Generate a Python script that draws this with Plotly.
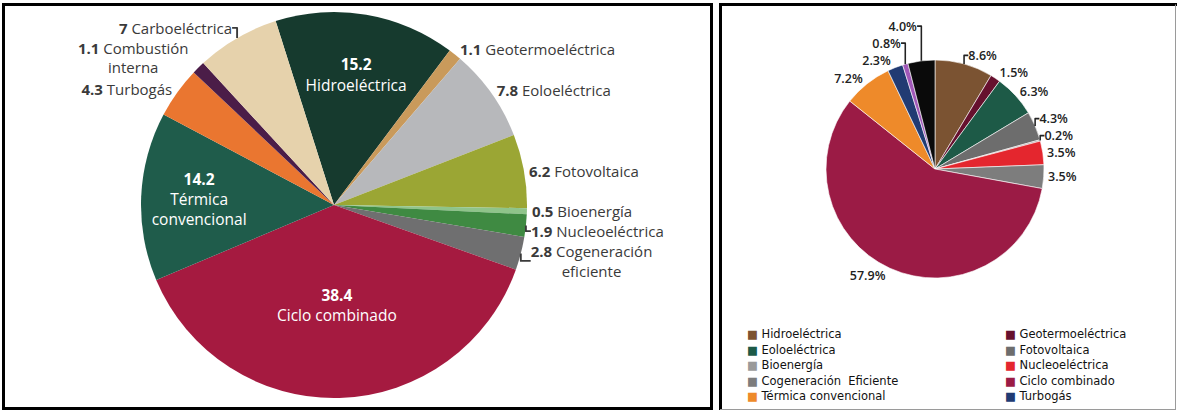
import plotly.graph_objects as go

# --- datos: panel izquierdo (capacidad, %) ---
tecnologias = ["Hidroeléctrica", "Geotermoeléctrica", "Eoloeléctrica", "Fotovoltaica",
               "Bioenergía", "Nucleoeléctrica", "Cogeneración eficiente", "Ciclo combinado",
               "Térmica convencional", "Turbogás", "Combustión interna", "Carboeléctrica"]
etiquetas_izq = ["Hidroeléctrica", "Geotermoeléctrica", "Eoloeléctrica", "Fotovoltaica",
                 "Bioenergía", "Nucleoeléctrica", "Cogeneración<br>eficiente", "Ciclo combinado",
                 "Térmica<br>convencional", "Turbogás", "Combustión<br>interna", "Carboeléctrica"]
valores_izq = [15.2, 1.1, 7.8, 6.2, 0.5, 1.9, 2.8, 38.4, 14.2, 4.3, 1.1, 7]
colores_izq = ["#163a2e", "#c99a5b", "#b7b8bb", "#9ba634", "#8fc48a", "#3f8a42",
               "#6f6f70", "#a51a40", "#1f5c4b", "#ea7630", "#4b1d48", "#e6d2ac"]
dentro = ["Hidroeléctrica", "Ciclo combinado", "Térmica convencional"]

# --- datos: panel derecho (generación, %) ---
nombres_der = ["Hidroeléctrica", "Geotermoeléctrica", "Eoloeléctrica", "Fotovoltaica",
               "Bioenergía", "Nucleoeléctrica", "Cogeneración  Eficiente", "Ciclo combinado",
               "Térmica convencional", "Turbogás", "Combustión interna", "Carboeléctrica"]
valores_der = [8.6, 1.5, 6.3, 4.3, 0.2, 3.5, 3.5, 57.9, 7.2, 2.3, 0.8, 4.0]
colores_der = ["#7b5332", "#66102e", "#1d5a47", "#6d6d6d", "#9a9a9a", "#e4262e",
               "#7d7d7d", "#9b1b45", "#ee8a2a", "#213b73", "#a058b8", "#0a0a0a"]
leyenda_der = 10  # solo se ven las primeras 10 entradas

W, H = 1177, 411
FUENTE = "Open Sans"

posiciones = ["inside" if t in dentro else "outside" for t in tecnologias]
plantillas = ["<b>%{value}</b><br>%{text}" if t in dentro else "<b>%{value}</b> %{text}"
              for t in tecnologias]

fig = go.Figure()

# pastel izquierdo
cx, cy, r = 334, 205, 193
fig.add_trace(go.Pie(
    labels=tecnologias, values=valores_izq, text=etiquetas_izq,
    marker=dict(colors=colores_izq),
    sort=False, direction="clockwise", rotation=-17.6,
    textposition=posiciones, texttemplate=plantillas,
    insidetextorientation="horizontal",
    insidetextfont=dict(family=FUENTE, size=15.5, color="white"),
    outsidetextfont=dict(family=FUENTE, size=15, color="#3a3a3a"),
    domain=dict(x=[(cx - r) / W, (cx + r) / W], y=[1 - (cy + r) / H, 1 - (cy - r) / H]),
    showlegend=False, hoverinfo="label+value",
))

# pastel derecho
cx2, cy2, r2 = 935, 169, 109
fig.add_trace(go.Pie(
    labels=nombres_der, values=valores_der,
    marker=dict(colors=colores_der, line=dict(color="white", width=0.6)),
    sort=False, direction="clockwise", rotation=0,
    textposition="outside", texttemplate="%{value:.1f}%",
    outsidetextfont=dict(family=FUENTE, size=12.5, color="#222222", weight=600),
    domain=dict(x=[(cx2 - r2) / W, (cx2 + r2) / W], y=[1 - (cy2 + r2) / H, 1 - (cy2 - r2) / H]),
    showlegend=False, hoverinfo="label+value",
))

# leyenda del panel derecho en dos columnas (una anotación por renglón)
for i, (n, c) in enumerate(zip(nombres_der[:leyenda_der], colores_der[:leyenda_der])):
    x_px = 745 if i % 2 == 0 else 1003
    y_px = 334 + 15.6 * (i // 2)
    fig.add_annotation(
        x=x_px / W, y=1 - y_px / H, xref="paper", yref="paper",
        xanchor="left", yanchor="middle", align="left", showarrow=False,
        text=f'<span style="color:{c}">■</span> {n}',
        font=dict(family="DejaVu Sans", size=11.5, color="#111111"),
    )

# marcos de los dos paneles
fig.add_shape(type="rect", xref="paper", yref="paper",
              x0=3.5 / W, x1=711.5 / W, y0=1 - 408.5 / H, y1=1 - 4.5 / H,
              line=dict(color="black", width=3))
fig.add_shape(type="line", xref="paper", yref="paper",
              x0=720.5 / W, x1=720.5 / W, y0=1 - 410 / H, y1=1 - 3 / H,
              line=dict(color="black", width=3))
fig.add_shape(type="line", xref="paper", yref="paper",
              x0=719 / W, x1=1177 / W, y0=1 - 4.5 / H, y1=1 - 4.5 / H,
              line=dict(color="black", width=3))
fig.add_shape(type="line", xref="paper", yref="paper",
              x0=1175.5 / W, x1=1175.5 / W, y0=1 - 410 / H, y1=1 - 4.5 / H,
              line=dict(color="#9a9a9a", width=1))
fig.add_shape(type="line", xref="paper", yref="paper",
              x0=720 / W, x1=1176 / W, y0=1 - 409.5 / H, y1=1 - 409.5 / H,
              line=dict(color="#9a9a9a", width=1))

fig.update_layout(
    width=W, height=H,
    margin=dict(l=0, r=0, t=0, b=0),
    paper_bgcolor="white", plot_bgcolor="white",
    font=dict(family=FUENTE),
    showlegend=False,
)

fig.write_html("out.html", config={"displayModeBar": False},
               post_script="document.body.style.margin='0px';")
